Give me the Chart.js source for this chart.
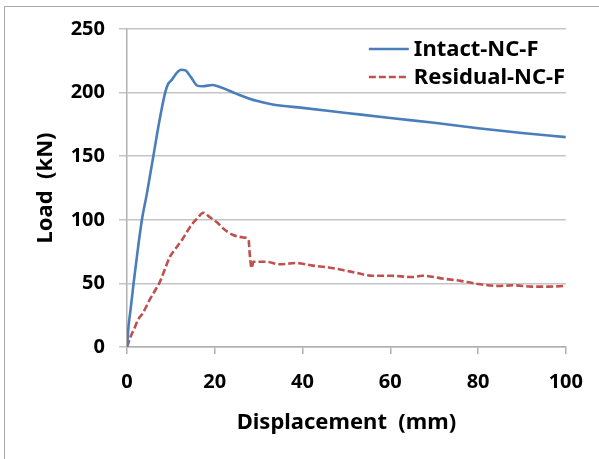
<!DOCTYPE html>
<html>
<head>
<meta charset="utf-8">
<script src="https://cdn.jsdelivr.net/npm/chart.js@4.4.1/dist/chart.umd.min.js"></script>
<style>
  body { margin: 0; background: #fff; }
  #frame { position: absolute; left: 4px; top: 6px; width: 620px; height: 480px; border-left: 1px solid #a9a9a9; border-top: 1px solid #a9a9a9; pointer-events: none; }
  #myChart { position: absolute; left: 0; top: 0; }
</style>
</head>
<body>
<canvas id="myChart" width="599" height="459"></canvas>
<div id="frame"></div>
<script>
var xTicks = [0, 20, 40, 60, 80, 100];
var yTicks = [0, 50, 100, 150, 200, 250];

var intactX = [0, 0.4, 0.8, 1.5, 2.4, 3.4, 4.5, 6.0, 7.4, 8.7, 9.4, 10.2, 11.2, 12.3, 13.3, 14.6, 16.0, 17.2, 19.5, 21.5, 25.0, 29.5, 33.5, 40, 50, 60, 70, 80, 90, 100];
var intactY = [0, 18, 29, 50, 75, 100, 120, 150, 178, 200, 207, 210, 215, 218, 217.5, 212, 205.5, 205, 206, 204, 199, 193.5, 190.5, 188, 184, 180, 176.3, 172, 168.3, 165];

var residualX = [0, 0.8, 1.6, 2.6, 3.5, 5.3, 6.5, 7.6, 8.5, 9.8, 11.0, 12.5, 14.7, 16.0, 17.4, 18.9, 20.5, 22.0, 24.2, 26.8, 27.7, 28.0, 28.4, 28.8, 31.7, 34.8, 38.5, 42.3, 46, 49.9, 52, 55.9, 60, 65.0, 67.2, 72.6, 76, 80.1, 84.6, 88, 92.2, 96, 100];
var residualY = [0, 8, 14, 22, 26, 38, 45, 52, 60, 71, 77, 84, 96, 101, 105.5, 102, 98, 93, 88, 86, 84, 72, 62, 67, 67, 65, 66, 64, 62.5, 60, 58.5, 56, 56, 55, 56, 53.5, 52, 49.5, 48, 48.5, 47.5, 47.5, 48];

var seriesNames = ["Intact-NC-F", "Residual-NC-F"];

function toPoints(xs, ys) {
    var pts = [];
    for (var i = 0; i < xs.length; i++) pts.push({x: xs[i], y: ys[i]});
    return pts;
}

// legend drawn inside the plot, like the Excel original
var innerLegend = {
    id: "innerLegend",
    afterDraw: function(chart) {
        var ctx = chart.ctx;
        var area = chart.chartArea;
        var x0 = area.right - 197;
        ctx.save();
        chart.data.datasets.forEach(function(ds, i) {
            var y = area.top + 20 + i * 28;
            ctx.strokeStyle = ds.borderColor;
            ctx.lineWidth = ds.borderWidth;
            ctx.setLineDash(ds.borderDash || []);
            ctx.beginPath();
            ctx.moveTo(x0, y);
            ctx.lineTo(x0 + 40, y);
            ctx.stroke();
            ctx.setLineDash([]);
            ctx.fillStyle = "#000";
            ctx.font = "bold 22px 'Noto Sans'";
            ctx.textBaseline = "middle";
            ctx.fillText(ds.label, x0 + 45, y + 1);
        });
        ctx.restore();
    }
};

new Chart("myChart", {
    type: "line",
    data: {
        datasets: [{
            label: seriesNames[0],
            data: toPoints(intactX, intactY),
            borderColor: "#4a7ebb",
            borderWidth: 2.6,
            pointRadius: 0,
            cubicInterpolationMode: "monotone",
            fill: false
        }, {
            label: seriesNames[1],
            data: toPoints(residualX, residualY),
            borderColor: "#c0504d",
            borderWidth: 2.6,
            borderDash: [7, 3],
            pointRadius: 0,
            cubicInterpolationMode: "monotone",
            fill: false
        }]
    },
    options: {
        responsive: false,
        animation: false,
        layout: {padding: {top: 29, right: 33, bottom: 19, left: 29}},
        plugins: {
            legend: {display: false},
            tooltip: {enabled: false}
        },
        scales: {
            x: {
                type: "linear",
                min: 0,
                max: 100,
                afterBuildTicks: function(s) { s.ticks = xTicks.map(function(v) { return {value: v}; }); },
                afterFit: function(s) { s.height = 93; },
                grid: {drawOnChartArea: false, tickLength: 7, tickColor: "#b0b0b0", lineWidth: 1.5},
                border: {color: "#b0b0b0", width: 1.5},
                ticks: {color: "#000", padding: 16, maxRotation: 0, font: {family: "'Noto Sans'", size: 20, weight: "bold"}},
                title: {display: true, text: "Displacement  (mm)", color: "#000", font: {family: "'Noto Sans'", size: 22, weight: "bold"}}
            },
            y: {
                min: 0,
                max: 250,
                afterBuildTicks: function(s) { s.ticks = yTicks.map(function(v) { return {value: v}; }); },
                afterFit: function(s) { s.width = 98; },
                grid: {color: "#c4c4c4", tickColor: "#c4c4c4", tickLength: 8, lineWidth: 1.5},
                border: {color: "#b0b0b0", width: 1.5},
                ticks: {color: "#000", padding: 14, font: {family: "'Noto Sans'", size: 20, weight: "bold"}},
                title: {display: true, text: "Load  (kN)", color: "#000", font: {family: "'Noto Sans'", size: 22, weight: "bold"}}
            }
        }
    },
    plugins: [innerLegend]
});
</script>
</body>
</html>
